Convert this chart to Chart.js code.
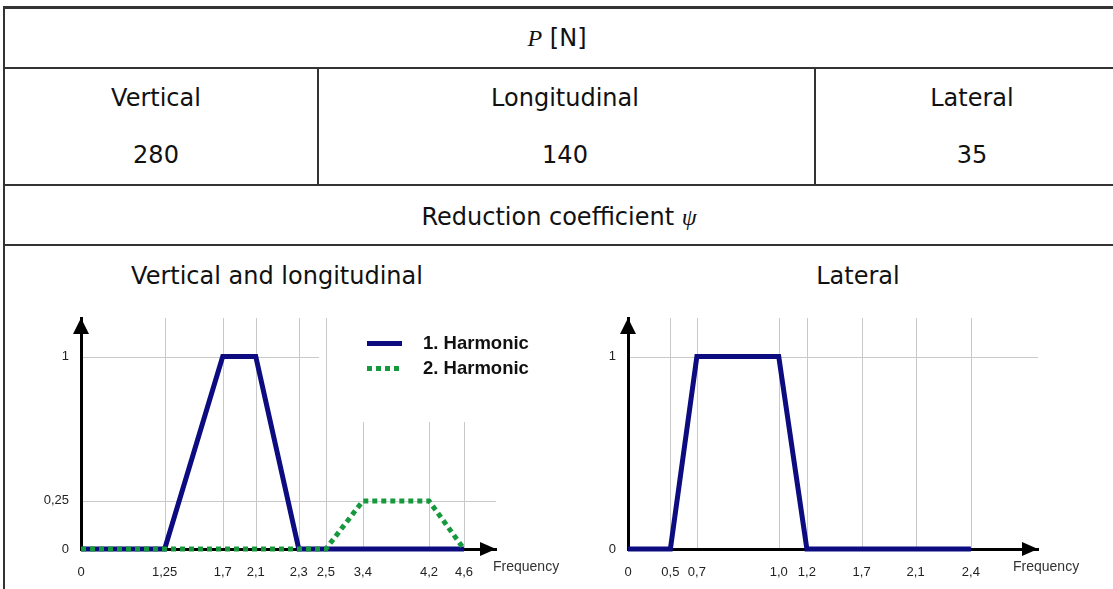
<!DOCTYPE html>
<html><head><meta charset="utf-8">
<script src="https://cdn.jsdelivr.net/npm/chart.js@4.4.1/dist/chart.umd.min.js"></script>
<style>
html,body{margin:0;padding:0;background:#fff;}
#page{position:relative;width:1113px;height:589px;overflow:hidden;background:#fff;font-family:"DejaVu Sans",Verdana,sans-serif;color:#111;}
.h{position:absolute;height:2px;background:#333;z-index:3;}
.v{position:absolute;width:2px;background:#333;z-index:3;}
.t{position:absolute;font-size:24px;line-height:30px;white-space:nowrap;transform:translate(-50%,-50%);}
.it{font-family:"Liberation Serif","DejaVu Serif",serif;font-style:italic;}
.box{position:absolute;}
.lg{position:absolute;font-family:"Liberation Sans",Arial,sans-serif;font-weight:bold;font-size:18.5px;color:#111;white-space:nowrap;transform:translateY(-50%);}
.sw{position:absolute;height:5px;width:35px;}
</style>
</head><body>
<div id="page">
  <div class="h" style="left:3px;top:6px;width:1110px;height:3px;"></div>
  <div class="v" style="left:3px;top:6px;height:583px;"></div>
  <div class="h" style="left:3px;top:67px;width:1110px;"></div>
  <div class="h" style="left:3px;top:184px;width:1110px;"></div>
  <div class="h" style="left:3px;top:244px;width:1110px;"></div>
  <div class="v" style="left:317px;top:68px;height:117px;"></div>
  <div class="v" style="left:814px;top:68px;height:117px;"></div>

  <div class="t" style="left:557px;top:38px;"><span class="it">P</span> [N]</div>
  <div class="t" style="left:156px;top:98px;">Vertical</div>
  <div class="t" style="left:156px;top:155px;">280</div>
  <div class="t" style="left:565px;top:98px;">Longitudinal</div>
  <div class="t" style="left:565px;top:155px;">140</div>
  <div class="t" style="left:972px;top:98px;">Lateral</div>
  <div class="t" style="left:972px;top:155px;">35</div>
  <div class="t" style="left:559px;top:217px;">Reduction coefficient <span class="it">ψ</span></div>
  <div class="t" style="left:277px;top:276px;">Vertical and longitudinal</div>
  <div class="t" style="left:858px;top:276px;">Lateral</div>

  <div class="box" style="left:0px;top:290px;width:560px;height:299px;"><canvas id="c1" width="560" height="299"></canvas></div>
  <div class="box" style="left:560px;top:290px;width:553px;height:299px;"><canvas id="c2" width="553" height="299"></canvas></div>
  <div id="legend"></div>
</div>
<script>
// ---- data ----
const leftTickValues = [0, 1.25, 1.7, 2.1, 2.3, 2.5, 3.4, 4.2, 4.6];
const leftTickLabels = ['0', '1,25', '1,7', '2,1', '2,3', '2,5', '3,4', '4,2', '4,6'];
const leftYTickValues = [0, 0.25, 1];
const leftYTickLabels = ['0', '0,25', '1'];

const harmonic1Name = '1. Harmonic';
const harmonic1Freq = [0, 1.25, 1.7, 2.1, 2.3, 4.6];
const harmonic1Psi  = [0, 0, 1, 1, 0, 0];

const harmonic2Name = '2. Harmonic';
const harmonic2Freq = [0, 2.5, 3.4, 4.2, 4.6];
const harmonic2Psi  = [0, 0, 0.25, 0.25, 0];

const rightTickValues = [0, 0.5, 0.7, 1.0, 1.2, 1.7, 2.1, 2.4];
const rightTickLabels = ['0', '0,5', '0,7', '1,0', '1,2', '1,7', '2,1', '2,4'];
const rightYTickValues = [0, 1];
const rightYTickLabels = ['0', '1'];

const lateralName = 'Lateral';
const lateralFreq = [0, 0.5, 0.7, 1.0, 1.2, 2.4];
const lateralPsi  = [0, 0, 1, 1, 0, 0];

// ---- schematic (non-uniform) axis layout: fraction of the axis length at each tick value ----
const leftAxisStops  = {values: [0, 1.25, 1.7, 2.1, 2.3, 2.5, 3.4, 4.2, 4.6, 5.0],
                        fracs:  [0, 0.2016, 0.3415, 0.4211, 0.5248, 0.5900, 0.6792, 0.8384, 0.9228, 1]};
const rightAxisStops = {values: [0, 0.5, 0.7, 1.0, 1.2, 1.7, 2.1, 2.4, 2.76],
                        fracs:  [0, 0.1034, 0.1680, 0.3676, 0.4363, 0.5698, 0.7015, 0.8363, 1]};

// ---- styles ----
const NAVY = '#0c0c80';
const GREEN = '#16993c';
const GRID = '#c9c9c9';
const TICKFONT = {family: '"Liberation Sans", Arial, sans-serif', size: 13};

const toPts = (xs, ys) => xs.map((x, i) => ({x: x, y: ys[i]}));

function piecewise(stops) {
  const sv = stops.values, sf = stops.fracs, n = sv.length;
  return s => {
    s.getPixelForValue = function (v) {
      if (v === null || v === undefined || isNaN(v)) return NaN;
      let i = 1;
      while (i < n - 1 && v > sv[i]) i++;
      const d = sf[i - 1] + (v - sv[i - 1]) * (sf[i] - sf[i - 1]) / (sv[i] - sv[i - 1]);
      return this.getPixelForDecimal(d);
    };
    s.getValueForPixel = function (p) {
      const d = this.getDecimalForPixel(p);
      let i = 1;
      while (i < n - 1 && d > sf[i]) i++;
      return sv[i - 1] + (d - sf[i - 1]) * (sv[i] - sv[i - 1]) / (sf[i] - sf[i - 1]);
    };
  };
}

const decor = {
  id: 'decor',
  beforeDraw(chart, args, o) {
    const {ctx, chartArea: a, scales: {x, y}} = chart;
    ctx.save();
    ctx.strokeStyle = GRID; ctx.lineWidth = 1;
    x.ticks.forEach(t => {
      if (t.value === 0) return;
      const px = Math.round(x.getPixelForValue(t.value)) + 0.5;
      const tv = (o.vTop && o.vTop[t.value] != null) ? o.vTop[t.value] : y.max;
      ctx.beginPath(); ctx.moveTo(px, y.getPixelForValue(tv)); ctx.lineTo(px, a.bottom - 1); ctx.stroke();
    });
    y.ticks.forEach(t => {
      if (t.value === 0) return;
      const py = Math.round(y.getPixelForValue(t.value)) + 0.5;
      const ev = (o.hEnd && o.hEnd[t.value] != null) ? o.hEnd[t.value] : x.max;
      ctx.beginPath(); ctx.moveTo(a.left + 1, py); ctx.lineTo(x.getPixelForValue(ev), py); ctx.stroke();
    });
    ctx.restore();
  },
  afterDraw(chart, args, o) {
    const {ctx, chartArea: a} = chart;
    ctx.save();
    ctx.fillStyle = '#000';
    ctx.beginPath();
    ctx.moveTo(a.right, a.bottom);
    ctx.lineTo(a.right - 16, a.bottom - 7);
    ctx.lineTo(a.right - 16, a.bottom + 7);
    ctx.closePath(); ctx.fill();
    ctx.beginPath();
    ctx.moveTo(a.left, a.top);
    ctx.lineTo(a.left - 8, a.top + 16);
    ctx.lineTo(a.left + 8, a.top + 16);
    ctx.closePath(); ctx.fill();
    ctx.fillStyle = '#333';
    ctx.font = '14px "Liberation Sans", Arial, sans-serif';
    ctx.textAlign = 'left'; ctx.textBaseline = 'middle';
    ctx.fillText('Frequency', a.right + o.freqDx, a.bottom + 18);
    ctx.restore();
  }
};

function makeChart(id, cfg) {
  return new Chart(document.getElementById(id), {
    type: 'line',
    data: {datasets: cfg.datasets},
    options: {
      responsive: false, animation: false, devicePixelRatio: 1,
      layout: {padding: {top: 28, right: cfg.padRight, left: 0, bottom: 0}},
      plugins: {legend: {display: false}, tooltip: {enabled: false},
        decor: {vTop: cfg.vTop, hEnd: cfg.hEnd, freqDx: cfg.freqDx}},
      elements: {point: {radius: 0}, line: {tension: 0}},
      scales: {
        x: {
          type: 'linear', min: 0, max: cfg.stops.values[cfg.stops.values.length - 1],
          afterSetDimensions: piecewise(cfg.stops),
          afterBuildTicks: s => { s.ticks = cfg.xTicks.map(v => ({value: v})); },
          afterFit: s => { s.height = 40; },
          ticks: {autoSkip: false, maxRotation: 0, padding: 16, font: TICKFONT, color: '#222',
            callback: v => { const i = cfg.xTicks.indexOf(v); return i >= 0 ? cfg.xLabels[i] : ''; }},
          grid: {display: true, color: 'rgba(0,0,0,0)', drawTicks: false},
          border: {display: true, color: '#000', width: 3}
        },
        y: {
          type: 'linear', min: 0, max: 1.2,
          afterBuildTicks: s => { s.ticks = cfg.yTicks.map(v => ({value: v})); },
          afterFit: s => { s.width = cfg.yWidth; },
          ticks: {autoSkip: false, padding: 12, font: TICKFONT, color: '#222',
            callback: v => { const i = cfg.yTicks.indexOf(v); return i >= 0 ? cfg.yLabels[i] : ''; }},
          grid: {display: true, color: 'rgba(0,0,0,0)', drawTicks: false},
          border: {display: true, color: '#000', width: 3}
        }
      }
    },
    plugins: [decor]
  });
}

const ds1 = {label: harmonic1Name, data: toPts(harmonic1Freq, harmonic1Psi), borderColor: NAVY, borderWidth: 5,
  borderJoinStyle: 'miter', borderCapStyle: 'butt', fill: false, clip: false, order: 2};
const ds2 = {label: harmonic2Name, data: toPts(harmonic2Freq, harmonic2Psi), borderColor: GREEN, borderWidth: 5,
  borderDash: [5, 4], borderJoinStyle: 'miter', borderCapStyle: 'butt', fill: false, clip: false, order: 1};
const ds3 = {label: lateralName, data: toPts(lateralFreq, lateralPsi), borderColor: NAVY, borderWidth: 5,
  borderJoinStyle: 'miter', borderCapStyle: 'butt', fill: false, clip: false};

makeChart('c1', {datasets: [ds1, ds2], xTicks: leftTickValues, xLabels: leftTickLabels, stops: leftAxisStops,
  yTicks: leftYTickValues, yLabels: leftYTickLabels, yWidth: 81, padRight: 64,
  vTop: {3.4: 0.66, 4.2: 0.66, 4.6: 0.66}, hEnd: {1: 2.45}, freqDx: -3});
makeChart('c2', {datasets: [ds3], xTicks: rightTickValues, xLabels: rightTickLabels, stops: rightAxisStops,
  yTicks: rightYTickValues, yLabels: rightYTickLabels, yWidth: 68, padRight: 75,
  vTop: {}, hEnd: {}, freqDx: -25});

// legend built from the datasets
const legend = document.getElementById('legend');
[ds1, ds2].forEach((d, i) => {
  const cy = 343 + i * 25;
  const sw = document.createElement('div');
  sw.className = 'sw';
  sw.style.left = '367px'; sw.style.top = (cy - 2) + 'px';
  sw.style.background = d.borderDash
    ? `repeating-linear-gradient(to right, ${d.borderColor} 0 5px, transparent 5px 9px)`
    : d.borderColor;
  legend.appendChild(sw);
  const tx = document.createElement('div');
  tx.className = 'lg';
  tx.style.left = '423px'; tx.style.top = cy + 'px';
  tx.textContent = d.label;
  legend.appendChild(tx);
});
</script>
</body></html>
